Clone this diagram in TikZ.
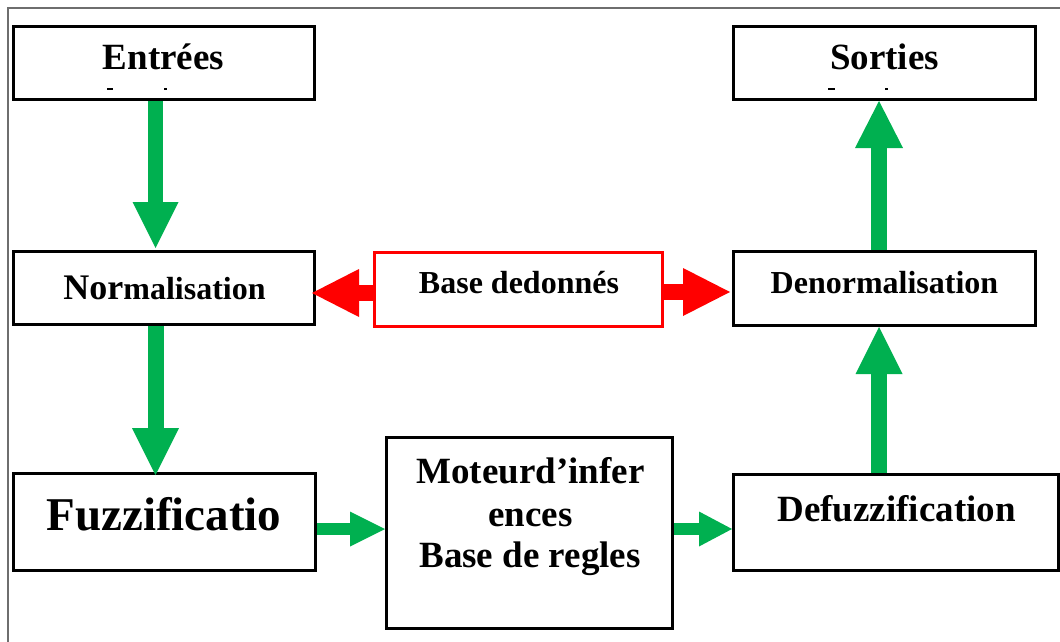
\documentclass[tikz,border=0pt]{standalone}
\usepackage{fontspec}
\setmainfont{Liberation Serif}
\usetikzlibrary{arrows.meta}
\definecolor{agreen}{RGB}{0,176,80}
\definecolor{ared}{RGB}{255,0,0}
\definecolor{framegray}{RGB}{110,110,110}
\begin{document}
\begin{tikzpicture}[x=1pt,y=-1pt,
  box/.style={draw=black,line width=3pt,rectangle,inner sep=0pt,fill=white},
  redbox/.style={draw=ared,line width=3pt,rectangle,inner sep=0pt,fill=white},
  lbl/.style={anchor=base,inner sep=0pt,font=\bfseries},
  garrow/.style n args={3}{draw=agreen,line width=#1,
     -{Triangle[length=#2,width=#3,line width=0pt,fill=agreen,color=agreen]}},
  rarrow/.style n args={3}{draw=ared,line width=#1,
     -{Triangle[length=#2,width=#3,line width=0pt,fill=ared,color=ared]}}]
\useasboundingbox (0,0) rectangle (1060,642);
\clip (0,0) rectangle (1060,642);
% frame
\draw[framegray,line width=1.2pt] (8,642) -- (8,8) -- (1060,8);
% boxes
\node[box,minimum width=301pt,minimum height=73pt] (entrees) at (164,63) {};
\node[box,minimum width=301pt,minimum height=73pt] (norm) at (164,288) {};
\node[box,minimum width=302pt,minimum height=73pt] (sorties) at (884.5,63) {};
\node[box,minimum width=302pt,minimum height=74pt] (denorm) at (884.5,288.5) {};
\node[redbox,minimum width=288pt,minimum height=74pt] (base) at (518.5,289.5) {};
\node[box,minimum width=302pt,minimum height=97pt] (fuzz) at (164.5,522) {};
\node[box,minimum width=286pt,minimum height=191pt] (moteur) at (529.5,533) {};
\node[box,minimum width=325pt,minimum height=96pt] (defuzz) at (896,522.5) {};
% texts
\node[lbl,font=\bfseries\fontsize{37}{37}\selectfont] (tentrees) at (163.5,70) {Entrées};
\node[lbl,font=\bfseries\fontsize{37}{37}\selectfont] (tsorties) at (884.5,70) {Sorties};
\node[lbl] (tnorm) at (164.5,299) {{\fontsize{36}{36}\selectfont Nor}{\fontsize{32}{32}\selectfont malisation}};
\node[lbl,font=\bfseries\fontsize{32}{32}\selectfont] (tbase) at (519,293) {Base dedonnés};
\node[lbl,font=\bfseries\fontsize{32}{32}\selectfont] (tdenorm) at (884.5,293) {Denormalisation};
\node[lbl,font=\bfseries\fontsize{47}{47}\selectfont] (tfuzz) at (164,530) {Fuzzificatio};
\node[lbl,font=\bfseries\fontsize{37}{37}\selectfont] (tmot1) at (530.5,483) {Moteurd’infer};
\node[lbl,font=\bfseries\fontsize{37}{37}\selectfont] (tmot2) at (530.5,526) {ences};
\node[lbl,font=\bfseries\fontsize{37}{37}\selectfont] (tmot3) at (530,567) {Base de regles};
\node[lbl,font=\bfseries\fontsize{37}{37}\selectfont] (tdefuzz) at (896.5,521) {Defuzzification};
% clipped text fragments
\fill (107,88) rectangle (113,90);
\fill (164,87.5) rectangle (166.5,90);
\fill (828,88) rectangle (835,90);
\fill (885,87.5) rectangle (887.5,90);
% green arrows
\draw[garrow={15pt}{46pt}{46pt}] ([xshift=-8.5pt]entrees.south) -- ([xshift=-8.5pt,yshift=2pt]norm.north);
\draw[garrow={16pt}{47pt}{47pt}] ([xshift=-8.5pt]norm.south) -- ([xshift=-9pt,yshift=-3pt]fuzz.north);
\draw[garrow={12pt}{35pt}{35pt}] ([yshift=-7pt]fuzz.east) -- ([yshift=4pt]moteur.west);
\draw[garrow={12pt}{33pt}{35pt}] ([yshift=4pt]moteur.east) -- ([yshift=-6.5pt]defuzz.west);
\draw[garrow={16pt}{47pt}{47pt}] ([xshift=-17pt]defuzz.north) -- ([xshift=-5.5pt]denorm.south);
\draw[garrow={16pt}{47pt}{48pt}] ([xshift=-5.5pt]denorm.north) -- ([xshift=-5.5pt]sorties.south);
% red arrows
\draw[rarrow={16pt}{47pt}{48pt}] ([yshift=-3.5pt]base.west) -- ([xshift=-4pt,yshift=-5pt]norm.east);
\draw[rarrow={16pt}{47pt}{48pt}] ([yshift=-2.5pt]base.east) -- ([xshift=-2pt,yshift=-3.5pt]denorm.west);
\end{tikzpicture}
\end{document}
